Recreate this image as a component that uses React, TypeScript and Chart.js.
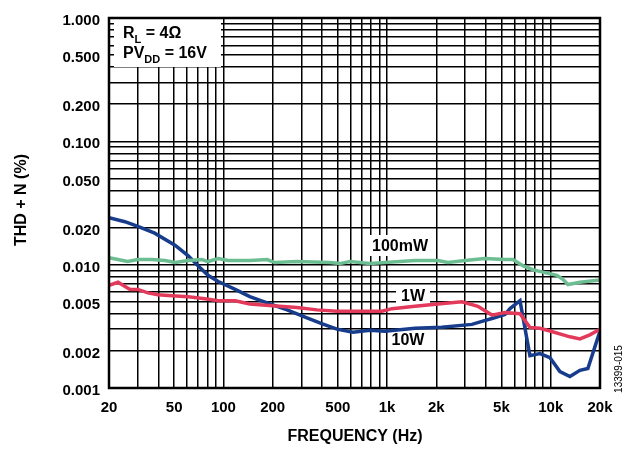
import React, { useEffect, useRef } from "react";
import { Chart, registerables } from "chart.js";

Chart.register(...registerables);

// ---- Data ----
const freq10W = [20, 25, 30, 38, 50.6, 61, 70, 80.5, 93, 118, 145, 185, 245, 324, 406, 494, 619, 786, 970, 1480, 2160, 3300, 3800, 4375, 5250, 5640, 6490, 7460, 8590, 9890, 11380, 13100, 15080, 16860, 20000];
const thd10W = [0.024, 0.0223, 0.0204, 0.018, 0.0144, 0.0118, 0.0098, 0.0082, 0.0073, 0.0063, 0.0055, 0.0049, 0.0043, 0.0037, 0.0033, 0.003, 0.00283, 0.00294, 0.00289, 0.00305, 0.00311, 0.00328, 0.00347, 0.00366, 0.00394, 0.0044, 0.0051, 0.00183, 0.0019, 0.00176, 0.00136, 0.00124, 0.00139, 0.00144, 0.0029];

const freq1W = [20, 22.7, 26.9, 30, 34.6, 39.8, 48.5, 61, 77, 93, 118, 145, 200, 281, 373, 494, 786, 931, 1072, 1480, 2046, 2865, 3590, 4375, 5250, 6490, 7460, 8590, 9890, 13100, 15080, 17340, 20000];
const thd1W = [0.0068, 0.0072, 0.0063, 0.0063, 0.0059, 0.0057, 0.0056, 0.0055, 0.0053, 0.0051, 0.0051, 0.0048, 0.00465, 0.0045, 0.0043, 0.0042, 0.0042, 0.0042, 0.0044, 0.0046, 0.0048, 0.005, 0.0046, 0.0039, 0.0041, 0.004, 0.0031, 0.00305, 0.0029, 0.0026, 0.0025, 0.0027, 0.003];

const freq100mW = [20, 22.7, 26, 30, 36.6, 44, 50.6, 61, 74, 80.5, 93, 107, 145, 185, 206, 281, 448, 515, 593, 786, 970, 1480, 2046, 2356, 2990, 3960, 5250, 5880, 6760, 7780, 8950, 10920, 11860, 12740, 15080, 20000];
const thd100mW = [0.0114, 0.011, 0.0106, 0.011, 0.011, 0.0108, 0.0104, 0.0108, 0.011, 0.0106, 0.0112, 0.0108, 0.0108, 0.011, 0.0104, 0.0106, 0.0104, 0.0102, 0.0106, 0.0102, 0.0104, 0.0108, 0.0108, 0.0104, 0.0108, 0.0112, 0.011, 0.011, 0.0098, 0.0091, 0.0087, 0.0082, 0.0076, 0.0069, 0.0072, 0.0075];

const xTickValues = [20, 50, 100, 200, 500, 1000, 2000, 5000, 10000, 20000];
const xTickLabels = ["20", "50", "100", "200", "500", "1k", "2k", "5k", "10k", "20k"];
const yTickValues = [0.001, 0.002, 0.005, 0.01, 0.02, 0.05, 0.1, 0.2, 0.5, 1];
const yTickLabels = ["0.001", "0.002", "0.005", "0.010", "0.020", "0.050", "0.100", "0.200", "0.500", "1.000"];

const xGrid: number[] = [];
for (const d of [10, 100, 1000]) for (let m = 1; m <= 9; m++) { const v = m * d; if (v >= 20) xGrid.push(v); }
xGrid.push(10000, 20000);
const yGrid: number[] = [];
for (const d of [0.001, 0.01, 0.1]) for (let m = 1; m <= 9; m++) yGrid.push(+(m * d).toPrecision(3));
yGrid.push(1);

const FONT = "'Liberation Sans', Arial, sans-serif";

function lookup(v: number, vals: number[], labels: string[]) {
  for (let i = 0; i < vals.length; i++) if (Math.abs(Math.log(v / vals[i])) < 1e-6) return labels[i];
  return "";
}

const annotPlugin = {
  id: "annot",
  beforeDatasetsDraw(chart: any) {
    const ctx = chart.ctx;
    ctx.save();
    ctx.fillStyle = "#fff";
    // legend box
    ctx.fillRect(114, 15, 107, 52);
    // inline label boxes
    ctx.fillRect(367, 235, 67, 21);
    ctx.fillRect(396, 289, 34, 16);
    ctx.fillRect(388, 333, 40, 16);
    ctx.fillStyle = "#000";
    ctx.textBaseline = "alphabetic";
    ctx.textAlign = "left";
    const big = `bold 16px ${FONT}`;
    const sub = `bold 11px ${FONT}`;
    // R_L = 4Ω
    let x = 123;
    ctx.font = big; ctx.fillText("R", x, 38); x += ctx.measureText("R").width;
    ctx.font = sub; ctx.fillText("L", x, 43); x += ctx.measureText("L").width;
    ctx.font = big; ctx.fillText(" = 4Ω", x, 38);
    // PV_DD = 16V
    x = 123;
    ctx.font = big; ctx.fillText("PV", x, 58); x += ctx.measureText("PV").width;
    ctx.font = sub; ctx.fillText("DD", x, 63); x += ctx.measureText("DD").width;
    ctx.font = big; ctx.fillText(" = 16V", x, 58);
    // inline labels
    ctx.font = big;
    ctx.textAlign = "center";
    ctx.textBaseline = "middle";
    ctx.fillText("100mW", 400, 247);
    ctx.fillText("1W", 413, 297);
    ctx.fillText("10W", 408, 341);
    ctx.restore();
  },
  afterDraw(chart: any) {
    const ctx = chart.ctx;
    const a = chart.chartArea;
    ctx.save();
    ctx.strokeStyle = "#000";
    ctx.lineWidth = 2.5;
    ctx.strokeRect(a.left, a.top, a.right - a.left, a.bottom - a.top);
    ctx.fillStyle = "#000";
    ctx.font = `bold 16px ${FONT}`;
    ctx.textAlign = "center";
    ctx.textBaseline = "middle";
    ctx.fillText("FREQUENCY (Hz)", 355, 437);
    ctx.save();
    ctx.translate(22, 200);
    ctx.rotate(-Math.PI / 2);
    ctx.fillText("THD + N (%)", 0, 0);
    ctx.restore();
    ctx.save();
    ctx.translate(619, 369);
    ctx.rotate(-Math.PI / 2);
    ctx.font = `10px ${FONT}`;
    ctx.fillText("13399-015", 0, 0);
    ctx.restore();
    ctx.restore();
  },
};

function mk(xs: number[], ys: number[]) {
  return xs.map((x, i) => ({ x, y: ys[i] }));
}

export default function App() {
  const ref = useRef<HTMLCanvasElement>(null);
  useEffect(() => {
    if (!ref.current) return;
    const tickFont = { family: FONT, size: 15, weight: "bold" as const };
    const chart = new Chart(ref.current, {
      type: "line",
      data: {
        datasets: [
          { label: "100mW", data: mk(freq100mW, thd100mW), borderColor: "#6cbe92", borderWidth: 3.5, pointRadius: 0, tension: 0 },
          { label: "1W", data: mk(freq1W, thd1W), borderColor: "#e33a5c", borderWidth: 3.5, pointRadius: 0, tension: 0 },
          { label: "10W", data: mk(freq10W, thd10W), borderColor: "#173c8c", borderWidth: 3.5, pointRadius: 0, tension: 0 },
        ],
      },
      options: {
        responsive: false,
        animation: false,
        layout: { padding: { left: 0, top: 10, right: 38, bottom: 0 } },
        plugins: { legend: { display: false }, tooltip: { enabled: false } },
        scales: {
          x: {
            type: "logarithmic",
            min: 20,
            max: 20000,
            afterBuildTicks: (s: any) => { s.ticks = xGrid.map((v) => ({ value: v })); },
            afterFit: (s: any) => { s.height = 63; },
            ticks: {
              autoSkip: false,
              maxRotation: 0,
              minRotation: 0,
              padding: 11,
              color: "#000",
              font: tickFont,
              callback: (_v: any, i: number, ticks: any[]) => lookup(ticks[i].value, xTickValues, xTickLabels),
            },
            grid: { color: "#000", lineWidth: 1.5, drawTicks: false },
            border: { display: false },
          },
          y: {
            type: "logarithmic",
            min: 0.001,
            max: 1,
            afterBuildTicks: (s: any) => { s.ticks = yGrid.map((v) => ({ value: v })); },
            afterFit: (s: any) => { s.width = 109; },
            ticks: {
              autoSkip: false,
              padding: 9,
              labelOffset: 3,
              color: "#000",
              font: tickFont,
              callback: (_v: any, i: number, ticks: any[]) => lookup(ticks[i].value, yTickValues, yTickLabels),
            },
            grid: { color: "#000", lineWidth: 1.5, drawTicks: false },
            border: { display: false },
          },
        },
      },
      plugins: [annotPlugin],
    } as any);
    return () => chart.destroy();
  }, []);
  return (
    <div style={{ position: "absolute", left: 0, top: 0, width: 638, height: 451, background: "#fff" }}>
      <canvas ref={ref} width={638} height={451} style={{ display: "block" }} />
    </div>
  );
}
